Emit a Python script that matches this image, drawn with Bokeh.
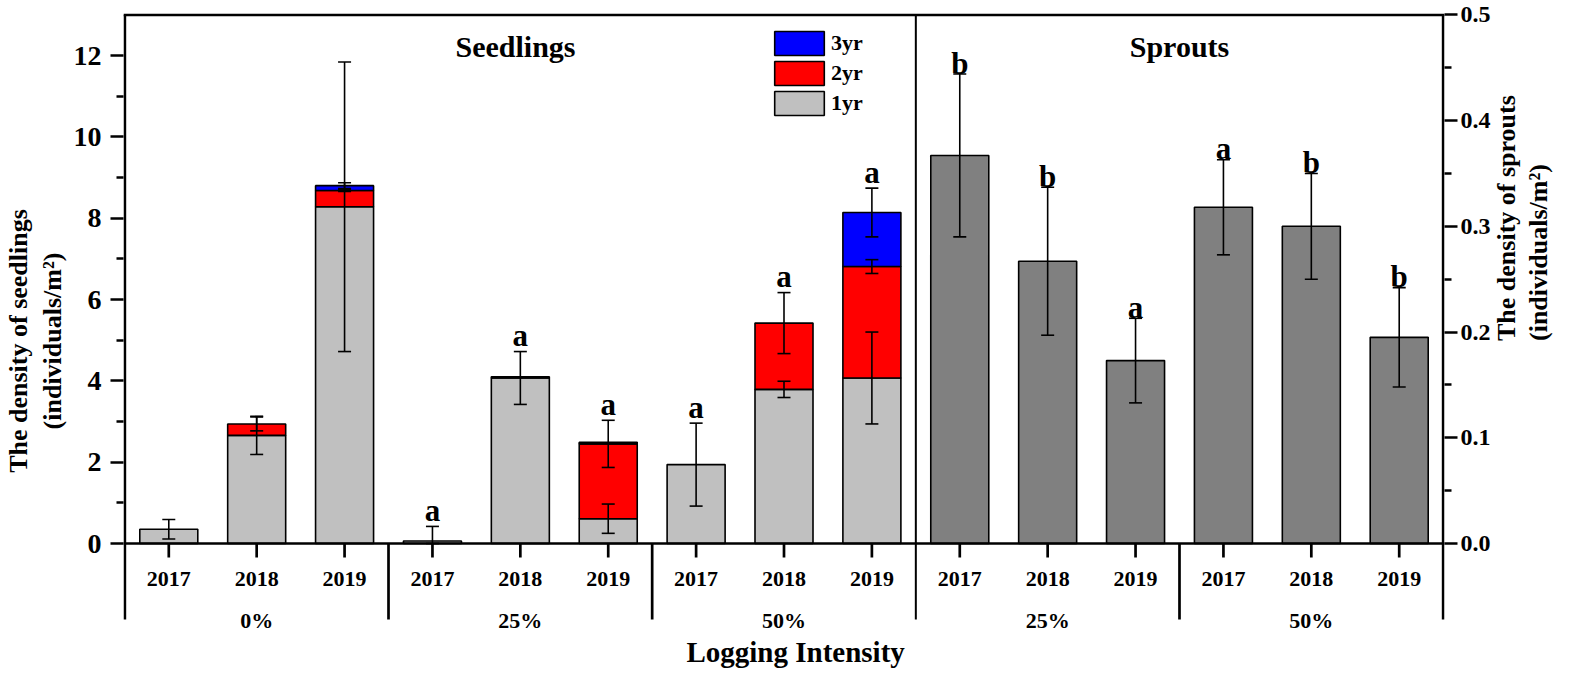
import math
from bokeh.plotting import figure
from bokeh.models import (Range1d, LinearAxis, FixedTicker, ColumnDataSource, Whisker,
                          TeeHead, Label, Legend, LegendItem, Span, PrintfTickFormatter)
from bokeh.core.properties import value
from bokeh.embed import file_html
from bokeh.resources import INLINE

# ---------------- data ----------------
years = ["2017", "2018", "2019"]
seed_groups = ["0%", "25%", "50%"]
sprout_groups = ["25%", "50%"]

# seedlings (individuals/m2), stacked by age class
seed_1yr = [0.35, 2.66, 8.28, 0.06, 4.07, 0.61, 1.94, 3.79, 4.07]
seed_2yr = [0.00, 0.28, 0.40, 0.00, 0.03, 1.84, 0.00, 1.63, 2.74]
seed_3yr = [0.00, 0.00, 0.12, 0.00, 0.00, 0.04, 0.00, 0.00, 1.33]
err_1yr = [0.24, 0.47, 3.56, 0.36, 0.65, 0.36, 1.02, 0.20, 1.13]
err_2yr = [0.00, 0.17, 0.02, 0.00, 0.00, 0.58, 0.00, 0.75, 0.17]
err_3yr = [0.00, 0.00, 0.07, 0.00, 0.00, 0.00, 0.00, 0.00, 0.60]
seed_letters = ["", "", "", "a", "a", "a", "a", "a", "a"]

# sprouts (individuals/m2)
sprout_mean = [0.367, 0.267, 0.173, 0.318, 0.300, 0.195]
sprout_err = [0.077, 0.070, 0.040, 0.045, 0.050, 0.047]
sprout_letters = ["b", "b", "a", "a", "b", "b"]

x_title = "Logging Intensity"

FONT = "Liberation Serif"
n_seed = len(seed_1yr)
n_spr = len(sprout_mean)
n_all = n_seed + n_spr

x_seed = [i + 0.5 for i in range(n_seed)]
x_spr = [n_seed + i + 0.5 for i in range(n_spr)]
x_all = x_seed + x_spr
all_groups = seed_groups + sprout_groups

# ---------------- layout (page pixels) ----------------
W, H = 1570, 668
LW = 2.7                                   # axis line width
LINE_L, LINE_R = 129.35, 1450.35           # centres of the two vertical axis lines
FRAME_TOP = 21
TOPLINE = FRAME_TOP + LW / 2               # centre of top border line (value 13 / 0.5)
ZERO, LINE_BOT = 551, 627
FRAME_BOT = 8 + H                          # frame reaches the bottom of the canvas
Y_MAX, R_MAX = 13.0, 0.5
px_x = (LINE_R - LINE_L) / n_all
eps = (LW / 2) / px_x
px_l = (ZERO - TOPLINE) / Y_MAX
px_r = (ZERO - TOPLINE) / R_MAX
y_lo = -(FRAME_BOT - ZERO) / px_l
y_hi = Y_MAX + (LW / 2) / px_l
r_lo = -(FRAME_BOT - ZERO) / px_r
r_hi = R_MAX + (LW / 2) / px_r
frame_l = LINE_L - LW / 2
frame_r = LINE_R + LW / 2

def yl(page_y):
    """page pixel row -> value on the seedlings scale"""
    return (ZERO - page_y) / px_l

p = figure(width=W, height=H, title=None, x_axis_location=None,
           min_border_left=int(round(frame_l - 8)),
           min_border_right=int(round(W - (frame_r - 8))),
           min_border_top=FRAME_TOP - 8, min_border_bottom=0,
           x_range=Range1d(-eps, n_all + eps), y_range=Range1d(y_lo, y_hi),
           output_backend="svg", toolbar_location=None, tools="")
p.extra_y_ranges = {"sprouts": Range1d(r_lo, r_hi)}
p.grid.visible = False
p.outline_line_color = None
p.background_fill_color = "white"
p.border_fill_color = "white"
ly = p.left[0]

# ---------------- stacked seedling bars ----------------
t1 = seed_1yr
t2 = [a + b for a, b in zip(t1, seed_2yr)]
t3 = [a + b for a, b in zip(t2, seed_3yr)]

layers = [
    ("1yr", [0.0] * n_seed, t1, seed_1yr, err_1yr, "#C0C0C0"),
    ("2yr", t1, t2, seed_2yr, err_2yr, "#FF0000"),
    ("3yr", t2, t3, seed_3yr, err_3yr, "#0000FF"),
]
renderers = {}
for name, bot, top, val, err, col in layers:
    idx = [i for i in range(n_seed) if val[i] > 0]
    src = ColumnDataSource(dict(x=[x_seed[i] for i in idx],
                                bottom=[bot[i] for i in idx],
                                top=[top[i] for i in idx]))
    r = p.vbar(x="x", bottom="bottom", top="top", width=0.66, source=src,
               fill_color=col, line_color="black", line_width=1.6)
    renderers[name] = r

def tee():
    return TeeHead(size=13, line_width=1.6, line_color="black")

for name, bot, top, val, err, col in layers:
    idx = [i for i in range(n_seed) if val[i] > 0 and err[i] > 0]
    wsrc = ColumnDataSource(dict(x=[x_seed[i] for i in idx],
                                 lower=[max(0.0, top[i] - err[i]) for i in idx],
                                 upper=[top[i] + err[i] for i in idx]))
    p.add_layout(Whisker(source=wsrc, base="x", lower="lower", upper="upper",
                         dimension="height", line_color="black", line_width=1.6,
                         level="overlay", upper_head=tee(), lower_head=tee()))

seed_anchor = []
for i in range(n_seed):
    cands = [t1[i] + err_1yr[i]]
    if seed_2yr[i] > 0:
        cands.append(t2[i] + err_2yr[i])
    if seed_3yr[i] > 0:
        cands.append(t3[i] + err_3yr[i])
    seed_anchor.append(max(cands))
lsrc = ColumnDataSource(dict(x=x_seed, y=seed_anchor, t=seed_letters))
p.text(x="x", y="y", text="t", source=lsrc, text_font=value(FONT), text_font_style="bold",
       text_font_size="31px", text_align="center", text_baseline="alphabetic",
       y_offset=-16, text_color="black")

# ---------------- sprouts ----------------
ssrc = ColumnDataSource(dict(x=x_spr, top=sprout_mean,
                             lower=[m - e for m, e in zip(sprout_mean, sprout_err)],
                             upper=[m + e for m, e in zip(sprout_mean, sprout_err)],
                             t=sprout_letters))
p.vbar(x="x", bottom=0, top="top", width=0.66, source=ssrc, y_range_name="sprouts",
       fill_color="#808080", line_color="black", line_width=1.6)
p.add_layout(Whisker(source=ssrc, base="x", lower="lower", upper="upper", dimension="height",
                     y_range_name="sprouts", line_color="black", line_width=1.6,
                     level="overlay", upper_head=tee(), lower_head=tee()))
p.text(x="x", y="upper", text="t", source=ssrc, y_range_name="sprouts",
       text_font=value(FONT), text_font_style="bold", text_font_size="31px",
       text_align="center", text_baseline="alphabetic", y_offset=-11, text_color="black")

# ---------------- frame lines and category axis drawn inside the frame ----------------
p.add_layout(Span(location=0, dimension="width", line_color="black", line_width=LW))
p.add_layout(Span(location=Y_MAX, dimension="width", line_color="black", line_width=LW))
y_line_lo = yl(LINE_BOT)
p.segment(x0=[0, n_all], y0=[y_line_lo] * 2, x1=[0, n_all], y1=[Y_MAX] * 2,
          line_color="black", line_width=LW)
p.segment(x0=[n_seed], y0=[y_line_lo], x1=[n_seed], y1=[Y_MAX],
          line_color="black", line_width=2)
tick_len = 14 / px_l
p.segment(x0=x_all, y0=[0] * n_all, x1=x_all, y1=[-tick_len] * n_all,
          line_color="black", line_width=LW)
seps = [3 * k for k in range(1, len(all_groups)) if 3 * k != n_seed]
p.segment(x0=seps, y0=[0] * len(seps), x1=seps, y1=[y_line_lo] * len(seps),
          line_color="black", line_width=LW)
year_labels = [years[i % 3] for i in range(n_all)]
p.text(x=x_all, y=[yl(586)] * n_all, text=year_labels,
       text_font=value(FONT), text_font_style="bold", text_font_size="22px",
       text_align="center", text_baseline="middle", text_color="black")
g_pos = [3 * k + 1.5 for k in range(len(all_groups))]
p.text(x=g_pos, y=[yl(628)] * len(g_pos), text=all_groups,
       text_font=value(FONT), text_font_style="bold", text_font_size="22px",
       text_align="center", text_baseline="middle", text_color="black")
p.text(x=[(801.5 - LINE_L) / px_x], y=[yl(659)], text=[x_title],
       text_font=value(FONT), text_font_style="bold", text_font_size="29px",
       text_align="center", text_baseline="middle", text_color="black")

# ---------------- legend ----------------
legend = Legend(items=[LegendItem(label="3yr", renderers=[renderers["3yr"]]),
                       LegendItem(label="2yr", renderers=[renderers["2yr"]]),
                       LegendItem(label="1yr", renderers=[renderers["1yr"]])],
                location=(int(round(779 - 6.2 - frame_l)), int(round(FRAME_BOT - 126.3))),
                glyph_width=62, glyph_height=30, spacing=0,
                padding=0, margin=0, label_standoff=1,
                label_text_font=FONT, label_text_font_style="bold",
                label_text_font_size="22px", label_text_color="black",
                border_line_alpha=0, background_fill_alpha=0)
p.add_layout(legend)

# ---------------- panel titles ----------------
for txt, xx in [("Seedlings", 4.445), ("Sprouts", 12.0)]:
    p.add_layout(Label(x=xx, y=yl(54), text=txt, text_font=FONT,
                       text_font_style="bold", text_font_size="30px", text_color="black",
                       text_align="center", text_baseline="alphabetic"))

# ---------------- y axes ----------------
def style_y(ax, size):
    ax.axis_line_color = None
    ax.major_tick_line_width = LW
    ax.minor_tick_line_width = LW
    ax.major_tick_in = 0
    ax.major_tick_out = 13
    ax.minor_tick_in = 0
    ax.minor_tick_out = 7
    ax.major_label_text_font = FONT
    ax.major_label_text_font_style = "bold"
    ax.major_label_text_font_size = size
    ax.major_label_text_color = "black"
    ax.axis_label_text_font = FONT
    ax.axis_label_text_font_style = "bold"
    ax.axis_label_text_font_size = "26px"
    ax.axis_label_text_color = "black"

def title_axis(side_label, standoff, range_name="default"):
    ax = LinearAxis(ticker=FixedTicker(ticks=[], minor_ticks=[]), y_range_name=range_name)
    ax.axis_line_color = None
    ax.major_tick_line_color = None
    ax.minor_tick_line_color = None
    ax.major_tick_out = 0
    ax.minor_tick_out = 0
    ax.major_label_standoff = 0
    ax.axis_label = side_label
    ax.axis_label_standoff = standoff
    ax.axis_label_text_font = FONT
    ax.axis_label_text_font_style = "bold"
    ax.axis_label_text_font_size = "26px"
    ax.axis_label_text_color = "black"
    return ax

def upward(ax):
    if "axis_label_orientation" in ax.properties():
        ax.axis_label_orientation = math.pi / 2

ly.ticker = FixedTicker(ticks=[0, 2, 4, 6, 8, 10, 12], minor_ticks=[1, 3, 5, 7, 9, 11])
style_y(ly, "28px")
ly.major_label_standoff = 9
ly.axis_label = "(individuals/m²)"
ly.axis_label_standoff = 4
p.add_layout(title_axis("The density of seedlings", 2), "left")

ry = LinearAxis(y_range_name="sprouts")
ry.ticker = FixedTicker(ticks=[0.0, 0.1, 0.2, 0.3, 0.4, 0.5],
                        minor_ticks=[0.05, 0.15, 0.25, 0.35, 0.45])
ry.formatter = PrintfTickFormatter(format="%.1f")
style_y(ry, "24px")
ry.major_label_standoff = 3
ry.axis_label = "The density of sprouts"
ry.axis_label_standoff = 13
upward(ry)
p.add_layout(ry, "right")
ry2 = title_axis("(individuals/m²)", 0, "sprouts")
upward(ry2)
p.add_layout(ry2, "right")

open("out.html", "w").write(file_html(p, INLINE))
